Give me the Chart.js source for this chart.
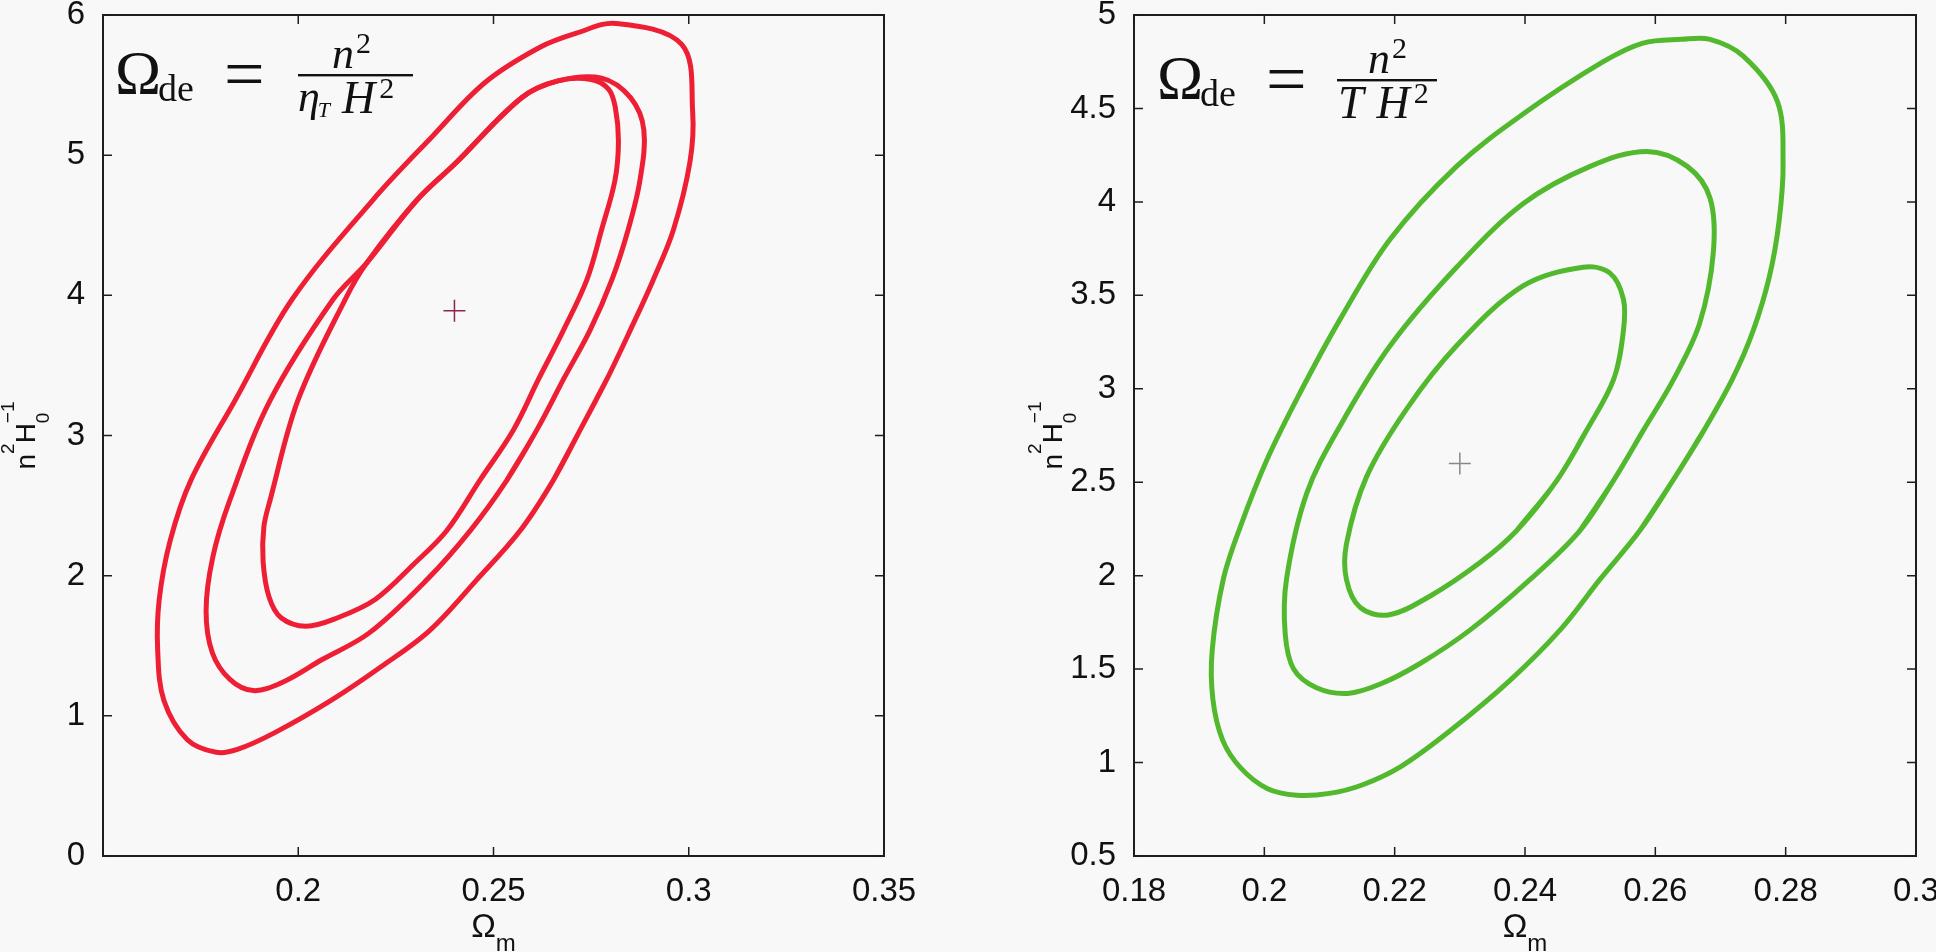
<!DOCTYPE html>
<html>
<head>
<meta charset="utf-8">
<title>Omega_de contours</title>
<script src="https://cdn.jsdelivr.net/npm/chart.js@4.4.1/dist/chart.umd.min.js"></script>
<style>
  body { margin: 0; background: #f8f8f8; }
  canvas { position: absolute; top: 0; }
  #leftChart { left: 0; }
  #rightChart { left: 968px; }
</style>
</head>
<body>
<canvas id="leftChart" width="968" height="952"></canvas>
<canvas id="rightChart" width="968" height="952"></canvas>
<script>
// left panel: Omega_de = n^2 / (eta_T H^2)
var leftXTicks = [0.2, 0.25, 0.3, 0.35];
var leftYTicks = [0, 1, 2, 3, 4, 5, 6];
var leftBest = [0.24, 3.89];

// closed loops, first point repeated at the end
var leftOuterX = [0.2722, 0.2653, 0.2568, 0.2457, 0.2337, 0.2212, 0.2084, 0.194, 0.1844, 0.179, 0.1716, 0.1656, 0.164, 0.1644, 0.1672, 0.1725, 0.1838, 0.1984, 0.2191, 0.2342, 0.2479, 0.2619, 0.2712, 0.2814, 0.2982, 0.301, 0.3003, 0.2961, 0.2909, 0.285, 0.279, 0.2722];
var leftOuterY = [3.04, 2.68, 2.32, 1.97, 1.61, 1.35, 1.11, 0.88, 0.76, 0.74, 0.83, 1.11, 1.47, 1.83, 2.25, 2.68, 3.25, 3.97, 4.68, 5.13, 5.52, 5.77, 5.87, 5.94, 5.79, 5.31, 4.95, 4.47, 4.11, 3.75, 3.40, 3.04];

var leftMidX = [0.2611, 0.2534, 0.244, 0.2329, 0.2181, 0.206, 0.196, 0.1885, 0.1825, 0.178, 0.1764, 0.1781, 0.1825, 0.1928, 0.2089, 0.2175, 0.2304, 0.2402, 0.2572, 0.2665, 0.2777, 0.2851, 0.2885, 0.2875, 0.2845, 0.2803, 0.2747, 0.2679, 0.2611];
var leftMidY = [3.04, 2.68, 2.32, 1.97, 1.59, 1.40, 1.24, 1.18, 1.26, 1.45, 1.75, 2.13, 2.54, 3.25, 3.97, 4.23, 4.68, 4.94, 5.41, 5.53, 5.55, 5.41, 5.18, 4.82, 4.47, 4.11, 3.75, 3.40, 3.04];

var leftInnerX = [0.2551, 0.2465, 0.238, 0.2295, 0.2197, 0.2101, 0.202, 0.1956, 0.1925, 0.191, 0.1912, 0.1928, 0.1999, 0.212, 0.2175, 0.2304, 0.2402, 0.2572, 0.2665, 0.275, 0.2795, 0.2812, 0.282, 0.2811, 0.2777, 0.2739, 0.2679, 0.2615, 0.2551];
var leftInnerY = [3.04, 2.68, 2.32, 2.08, 1.83, 1.70, 1.64, 1.70, 1.85, 2.10, 2.35, 2.54, 3.25, 3.97, 4.23, 4.68, 4.94, 5.41, 5.53, 5.54, 5.47, 5.34, 5.10, 4.82, 4.47, 4.11, 3.75, 3.40, 3.04];

// right panel: Omega_de = n^2 / (T H^2)
var rightXTicks = [0.18, 0.2, 0.22, 0.24, 0.26, 0.28, 0.3];
var rightYTicks = [0.5, 1, 1.5, 2, 2.5, 3, 3.5, 4, 4.5, 5];
var rightBest = [0.23, 2.6];

var rightOuterX = [0.2627, 0.2576, 0.2515, 0.2454, 0.2377, 0.2285, 0.221, 0.215, 0.21, 0.205, 0.2005, 0.1964, 0.1936, 0.1921, 0.192, 0.1937, 0.1963, 0.2004, 0.2055, 0.2116, 0.2193, 0.2295, 0.2397, 0.252, 0.2581, 0.264, 0.2684, 0.2735, 0.2787, 0.2796, 0.279, 0.2775, 0.275, 0.2718, 0.2675, 0.2627];
var rightOuterY = [2.51, 2.24, 1.98, 1.71, 1.44, 1.17, 0.98, 0.88, 0.835, 0.825, 0.86, 0.97, 1.12, 1.34, 1.60, 1.98, 2.26, 2.62, 2.98, 3.37, 3.80, 4.19, 4.47, 4.75, 4.85, 4.87, 4.87, 4.78, 4.54, 4.21, 3.90, 3.60, 3.31, 3.05, 2.78, 2.51];

var rightMidX = [0.2536, 0.2484, 0.2408, 0.2316, 0.2239, 0.2178, 0.2128, 0.208, 0.2045, 0.2032, 0.2034, 0.2065, 0.2116, 0.2193, 0.2295, 0.2397, 0.25, 0.2587, 0.2649, 0.2684, 0.2689, 0.2668, 0.2628, 0.2582, 0.2536];
var rightMidY = [2.51, 2.24, 1.98, 1.71, 1.53, 1.42, 1.37, 1.40, 1.50, 1.69, 1.98, 2.44, 2.80, 3.23, 3.65, 3.99, 4.19, 4.27, 4.19, 4.02, 3.73, 3.35, 3.05, 2.78, 2.51];

var rightInnerX = [0.2449, 0.2387, 0.2331, 0.2254, 0.219, 0.2147, 0.2126, 0.2126, 0.2157, 0.2218, 0.2295, 0.2397, 0.2489, 0.253, 0.2551, 0.2551, 0.2536, 0.2495, 0.2449];
var rightInnerY = [2.51, 2.24, 2.07, 1.89, 1.79, 1.83, 1.98, 2.17, 2.53, 2.89, 3.23, 3.55, 3.65, 3.62, 3.48, 3.31, 3.05, 2.78, 2.51];

var sans = '"Liberation Sans", Arial, sans-serif';
var serif = '"Liberation Serif", "Times New Roman", serif';

// width of a row of text pieces; a "stack" piece shares its x with the next one
function runsWidth(ctx, runs) {
  var w = 0, held = 0;
  runs.forEach(function (r) {
    ctx.font = r.font;
    var rw = ctx.measureText(r.t).width;
    if (r.stack) { held = rw; return; }
    w += Math.max(rw, held);
    held = 0;
  });
  return w;
}

function drawRuns(ctx, runs, x, y) {
  var cx = x - runsWidth(ctx, runs) / 2;
  var held = 0;
  ctx.textAlign = 'left';
  runs.forEach(function (r) {
    ctx.font = r.font;
    ctx.fillText(r.t, cx, y + (r.dy || 0));
    var rw = ctx.measureText(r.t).width;
    if (r.stack) { held = rw; return; }
    cx += Math.max(rw, held);
    held = 0;
  });
}

function drawFormula(ctx, x0, f) {
  var dy = f.dy;
  ctx.textAlign = 'left';
  ctx.font = '62px ' + serif;
  ctx.fillText('Ω', x0 + f.dx + 12, 93 + dy);
  ctx.font = '38px ' + serif;
  ctx.fillText('de', x0 + f.dx + 55, 101 + dy);
  ctx.font = '72px ' + serif;
  ctx.fillText('=', x0 + f.dx + 121, 98 + dy);
  // fraction bar
  ctx.fillRect(x0 + f.barL, 74 + dy, f.barR - f.barL, 2.4);
  ctx.font = 'italic 44px ' + serif;
  ctx.fillText('n', x0 + f.numX, 68 + dy);
  var nw = ctx.measureText('n').width;
  ctx.font = '30px ' + serif;
  ctx.fillText('2', x0 + f.numX + nw + 2, 53 + dy);
  var cx = x0 + f.denomX;
  f.denom.forEach(function (p) {
    ctx.font = p.font;
    ctx.fillText(p.t, cx + (p.gap || 0), p.y + dy);
    cx += (p.gap || 0) + ctx.measureText(p.t).width;
  });
}

var framePlugin = {
  id: 'frame',
  afterDraw: function (chart, args, opts) {
    var ctx = chart.ctx;
    var a = chart.chartArea;
    var xs = chart.scales.x;
    var ys = chart.scales.y;
    ctx.save();
    ctx.strokeStyle = '#1e1e1e';
    ctx.lineWidth = 2;
    ctx.strokeRect(a.left, a.top, a.right - a.left, a.bottom - a.top);

    // inward ticks on all four sides
    ctx.lineWidth = 1.5;
    ctx.beginPath();
    xs.ticks.forEach(function (t) {
      var px = xs.getPixelForValue(t.value);
      ctx.moveTo(px, a.bottom); ctx.lineTo(px, a.bottom - 9);
      ctx.moveTo(px, a.top); ctx.lineTo(px, a.top + 9);
    });
    ys.ticks.forEach(function (t) {
      var py = ys.getPixelForValue(t.value);
      ctx.moveTo(a.left, py); ctx.lineTo(a.left + 9, py);
      ctx.moveTo(a.right, py); ctx.lineTo(a.right - 9, py);
    });
    ctx.stroke();

    ctx.fillStyle = '#111';
    ctx.textBaseline = 'alphabetic';
    drawRuns(ctx, [
      { t: 'Ω', font: '33px ' + sans },
      { t: 'm', font: '24px ' + sans, dy: 14 }
    ], (a.left + a.right) / 2, 937);

    ctx.save();
    ctx.translate(opts.yTitleX, (a.top + a.bottom) / 2);
    ctx.rotate(-Math.PI / 2);
    drawRuns(ctx, [
      { t: 'n', font: '28px ' + sans },
      { t: '2', font: '19px ' + sans, dy: -21 },
      { t: 'H', font: '28px ' + sans },
      { t: '0', font: '19px ' + sans, dy: 14, stack: true },
      { t: '−1', font: '19px ' + sans, dy: -21 }
    ], 0, 0);
    ctx.restore();

    drawFormula(ctx, a.left, opts.formula);
    ctx.restore();
  }
};

// wrap one point on each end so the spline closes without a kink
function contour(xv, yv, color) {
  var pts = xv.map(function (x, i) { return { x: x, y: yv[i] }; });
  var n = pts.length;
  var data = [pts[n - 2]].concat(pts, [pts[1]]);
  return {
    data: data,
    showLine: true,
    borderColor: color,
    borderWidth: 5,
    pointRadius: 0,
    tension: 0.35
  };
}

function makeChart(id, cfg) {
  var datasets = cfg.contours.map(function (c) { return contour(c[0], c[1], cfg.color); });
  datasets.push({
    data: [{ x: cfg.best[0], y: cfg.best[1] }],
    pointStyle: 'cross',
    pointRadius: 11,
    borderColor: cfg.crossColor,
    borderWidth: 1.5,
    showLine: false
  });
  var tickFont = { family: sans, size: 33 };
  return new Chart(document.getElementById(id), {
    type: 'scatter',
    data: { datasets: datasets },
    options: {
      responsive: false,
      animation: false,
      devicePixelRatio: 1,
      layout: { padding: { left: 0, right: cfg.padRight, top: 15, bottom: 0 } },
      plugins: {
        legend: { display: false },
        tooltip: { enabled: false },
        frame: { yTitleX: cfg.yTitleX, formula: cfg.formula }
      },
      scales: {
        x: {
          type: 'linear',
          min: cfg.xMin,
          max: cfg.xMax,
          grid: { display: false },
          border: { display: false },
          afterBuildTicks: function (s) { s.ticks = cfg.xTicks.map(function (v) { return { value: v }; }); },
          afterFit: function (s) { s.height = 96; s.paddingLeft = 0; s.paddingRight = 0; },
          ticks: {
            font: tickFont, color: '#111', padding: 8, maxRotation: 0, autoSkip: false,
            callback: function (v) { return String(v); }
          }
        },
        y: {
          type: 'linear',
          min: cfg.yMin,
          max: cfg.yMax,
          grid: { display: false },
          border: { display: false },
          afterBuildTicks: function (s) { s.ticks = cfg.yTicks.map(function (v) { return { value: v }; }); },
          afterFit: function (s) { s.width = cfg.yWidth; s.paddingTop = 0; s.paddingBottom = 0; },
          ticks: {
            font: tickFont, color: '#111', padding: 10, autoSkip: false,
            callback: function (v) { return String(v); }
          }
        }
      }
    },
    plugins: [framePlugin]
  });
}

makeChart('leftChart', {
  contours: [[leftOuterX, leftOuterY], [leftMidX, leftMidY], [leftInnerX, leftInnerY]],
  color: '#ee1f35',
  crossColor: '#8b2252',
  best: leftBest,
  xMin: 0.15, xMax: 0.35, yMin: 0, yMax: 6,
  xTicks: leftXTicks, yTicks: leftYTicks,
  yWidth: 103, padRight: 84, yTitleX: 35,
  formula: {
    dx: 0, dy: 0, barL: 195, barR: 310, numX: 229, denomX: 195,
    denom: [
      { t: 'η', font: 'italic 44px ' + serif, y: 111 },
      { t: 'T', font: 'italic 22px ' + serif, y: 117, gap: -2 },
      { t: 'H', font: 'italic 46px ' + serif, y: 113, gap: 12 },
      { t: '2', font: '30px ' + serif, y: 98, gap: 4 }
    ]
  }
});

makeChart('rightChart', {
  contours: [[rightOuterX, rightOuterY], [rightMidX, rightMidY], [rightInnerX, rightInnerY]],
  color: '#52b92e',
  crossColor: '#888888',
  best: rightBest,
  xMin: 0.18, xMax: 0.3, yMin: 0.5, yMax: 5,
  xTicks: rightXTicks, yTicks: rightYTicks,
  yWidth: 166, padRight: 20, yTitleX: 94,
  formula: {
    dx: 11, dy: 5, barL: 203, barR: 303, numX: 234, denomX: 204,
    denom: [
      { t: 'T', font: 'italic 46px ' + serif, y: 113 },
      { t: 'H', font: 'italic 46px ' + serif, y: 113, gap: 13 },
      { t: '2', font: '30px ' + serif, y: 98, gap: 4 }
    ]
  }
});
</script>
</body>
</html>
